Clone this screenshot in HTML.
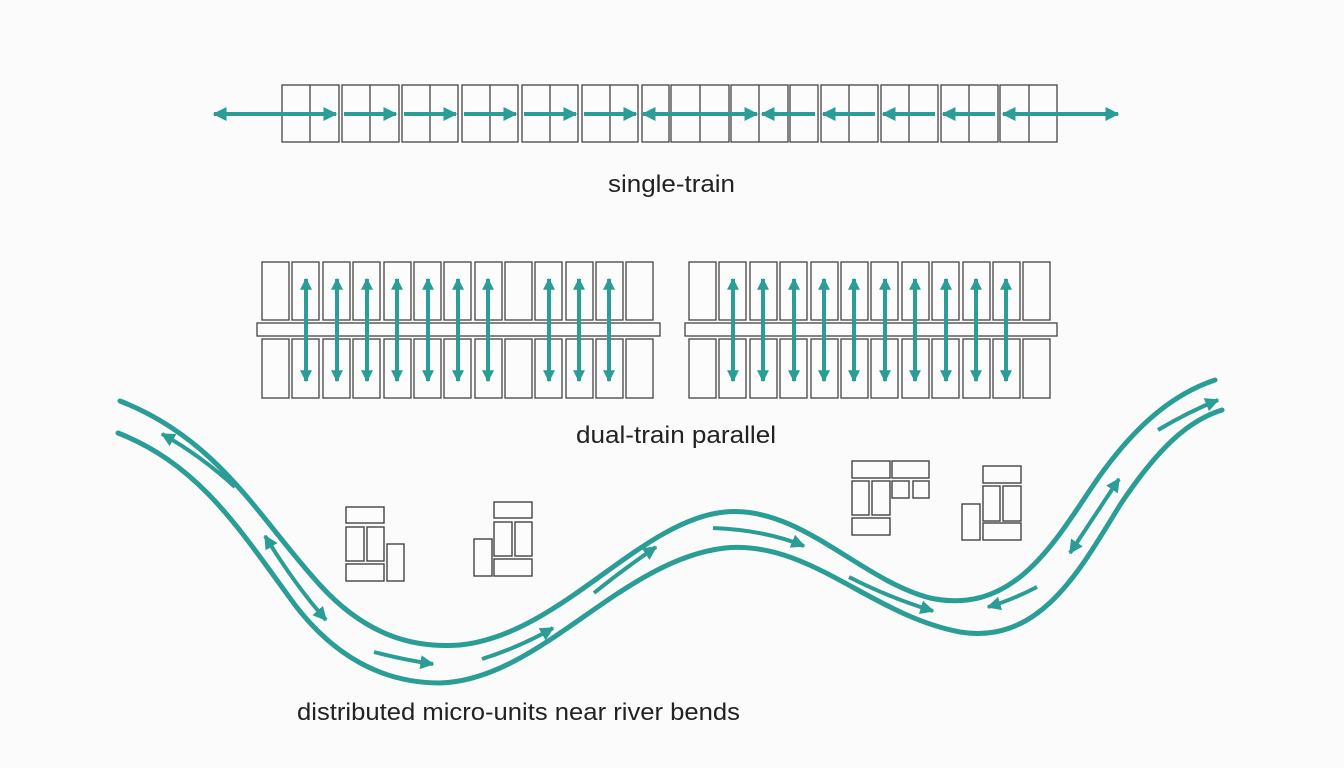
<!DOCTYPE html>
<html><head><meta charset="utf-8"><style>
html,body{margin:0;padding:0;background:#fbfbfb;}
svg{display:block;}
text{font-family:"Liberation Sans",sans-serif;fill:#222;}
</style></head><body>
<svg width="1344" height="768" viewBox="0 0 1344 768" xmlns="http://www.w3.org/2000/svg">
<defs>
<marker id="ah" viewBox="0 0 10 10" refX="9" refY="5" markerWidth="14" markerHeight="14" markerUnits="userSpaceOnUse" orient="auto-start-reverse">
<path d="M0,0 L10,5 L0,10 z" fill="#2a9d96"/></marker>
<marker id="ahs" viewBox="0 0 10 10" refX="9" refY="5" markerWidth="12" markerHeight="12" markerUnits="userSpaceOnUse" orient="auto-start-reverse">
<path d="M0,0 L10,5 L0,10 z" fill="#2a9d96"/></marker>
</defs>
<rect width="1344" height="768" fill="#fbfbfb"/>

<g fill="#fcfcfc" stroke="#444" stroke-width="1.3">
<rect x="282" y="85" width="57" height="57"/><line x1="310" y1="85" x2="310" y2="142"/>
<rect x="342" y="85" width="57" height="57"/><line x1="370" y1="85" x2="370" y2="142"/>
<rect x="402" y="85" width="56" height="57"/><line x1="430" y1="85" x2="430" y2="142"/>
<rect x="462" y="85" width="56" height="57"/><line x1="490" y1="85" x2="490" y2="142"/>
<rect x="522" y="85" width="56" height="57"/><line x1="550" y1="85" x2="550" y2="142"/>
<rect x="582" y="85" width="56" height="57"/><line x1="610" y1="85" x2="610" y2="142"/>
<rect x="642" y="85" width="27" height="57"/>
<rect x="671" y="85" width="58" height="57"/><line x1="700" y1="85" x2="700" y2="142"/>
<rect x="731" y="85" width="57" height="57"/><line x1="759" y1="85" x2="759" y2="142"/>
<rect x="790" y="85" width="28" height="57"/>
<rect x="821" y="85" width="57" height="57"/><line x1="849" y1="85" x2="849" y2="142"/>
<rect x="881" y="85" width="57" height="57"/><line x1="909" y1="85" x2="909" y2="142"/>
<rect x="941" y="85" width="57" height="57"/><line x1="969" y1="85" x2="969" y2="142"/>
<rect x="1000" y="85" width="57" height="57"/><line x1="1029" y1="85" x2="1029" y2="142"/>
</g>
<g stroke="#2a9d96" stroke-width="4" fill="none">
<line x1="214" y1="114" x2="336" y2="114" marker-start="url(#ah)" marker-end="url(#ah)"/>
<line x1="344" y1="114" x2="396" y2="114" marker-end="url(#ah)"/>
<line x1="404" y1="114" x2="456" y2="114" marker-end="url(#ah)"/>
<line x1="464" y1="114" x2="516" y2="114" marker-end="url(#ah)"/>
<line x1="524" y1="114" x2="576" y2="114" marker-end="url(#ah)"/>
<line x1="584" y1="114" x2="636" y2="114" marker-end="url(#ah)"/>
<line x1="643" y1="114" x2="757" y2="114" marker-start="url(#ah)" marker-end="url(#ah)"/>
<line x1="815" y1="114" x2="762" y2="114" marker-end="url(#ah)"/>
<line x1="875" y1="114" x2="823" y2="114" marker-end="url(#ah)"/>
<line x1="935" y1="114" x2="883" y2="114" marker-end="url(#ah)"/>
<line x1="995" y1="114" x2="943" y2="114" marker-end="url(#ah)"/>
<line x1="1003" y1="114" x2="1118" y2="114" marker-start="url(#ah)" marker-end="url(#ah)"/>
</g>
<text x="608" y="192" font-size="24" textLength="127" lengthAdjust="spacingAndGlyphs">single-train</text>

<g fill="#fcfcfc" stroke="#444" stroke-width="1.3">
<rect x="257" y="323" width="403" height="13"/>
<rect x="685" y="323" width="372" height="13"/>
</g>
<g fill="#fcfcfc" stroke="#444" stroke-width="1.3">
<rect x="262" y="262" width="27" height="58"/><rect x="262" y="339" width="27" height="59"/>
<rect x="292" y="262" width="27" height="58"/><rect x="292" y="339" width="27" height="59"/>
<rect x="323" y="262" width="27" height="58"/><rect x="323" y="339" width="27" height="59"/>
<rect x="353" y="262" width="27" height="58"/><rect x="353" y="339" width="27" height="59"/>
<rect x="384" y="262" width="27" height="58"/><rect x="384" y="339" width="27" height="59"/>
<rect x="414" y="262" width="27" height="58"/><rect x="414" y="339" width="27" height="59"/>
<rect x="444" y="262" width="27" height="58"/><rect x="444" y="339" width="27" height="59"/>
<rect x="475" y="262" width="27" height="58"/><rect x="475" y="339" width="27" height="59"/>
<rect x="505" y="262" width="27" height="58"/><rect x="505" y="339" width="27" height="59"/>
<rect x="535" y="262" width="27" height="58"/><rect x="535" y="339" width="27" height="59"/>
<rect x="566" y="262" width="27" height="58"/><rect x="566" y="339" width="27" height="59"/>
<rect x="596" y="262" width="27" height="58"/><rect x="596" y="339" width="27" height="59"/>
<rect x="626" y="262" width="27" height="58"/><rect x="626" y="339" width="27" height="59"/>
<rect x="689" y="262" width="27" height="58"/><rect x="689" y="339" width="27" height="59"/>
<rect x="719" y="262" width="27" height="58"/><rect x="719" y="339" width="27" height="59"/>
<rect x="750" y="262" width="27" height="58"/><rect x="750" y="339" width="27" height="59"/>
<rect x="780" y="262" width="27" height="58"/><rect x="780" y="339" width="27" height="59"/>
<rect x="811" y="262" width="27" height="58"/><rect x="811" y="339" width="27" height="59"/>
<rect x="841" y="262" width="27" height="58"/><rect x="841" y="339" width="27" height="59"/>
<rect x="871" y="262" width="27" height="58"/><rect x="871" y="339" width="27" height="59"/>
<rect x="902" y="262" width="27" height="58"/><rect x="902" y="339" width="27" height="59"/>
<rect x="932" y="262" width="27" height="58"/><rect x="932" y="339" width="27" height="59"/>
<rect x="963" y="262" width="27" height="58"/><rect x="963" y="339" width="27" height="59"/>
<rect x="993" y="262" width="27" height="58"/><rect x="993" y="339" width="27" height="59"/>
<rect x="1023" y="262" width="27" height="58"/><rect x="1023" y="339" width="27" height="59"/>
</g>
<g stroke="#2a9d96" stroke-width="4" fill="none" marker-start="url(#ahs)" marker-end="url(#ahs)">
<line x1="306" y1="279" x2="306" y2="381"/>
<line x1="337" y1="279" x2="337" y2="381"/>
<line x1="367" y1="279" x2="367" y2="381"/>
<line x1="397" y1="279" x2="397" y2="381"/>
<line x1="428" y1="279" x2="428" y2="381"/>
<line x1="458" y1="279" x2="458" y2="381"/>
<line x1="488" y1="279" x2="488" y2="381"/>
<line x1="549" y1="279" x2="549" y2="381"/>
<line x1="579" y1="279" x2="579" y2="381"/>
<line x1="609" y1="279" x2="609" y2="381"/>
<line x1="733" y1="279" x2="733" y2="381"/>
<line x1="763" y1="279" x2="763" y2="381"/>
<line x1="794" y1="279" x2="794" y2="381"/>
<line x1="824" y1="279" x2="824" y2="381"/>
<line x1="854" y1="279" x2="854" y2="381"/>
<line x1="885" y1="279" x2="885" y2="381"/>
<line x1="915" y1="279" x2="915" y2="381"/>
<line x1="946" y1="279" x2="946" y2="381"/>
<line x1="976" y1="279" x2="976" y2="381"/>
<line x1="1006" y1="279" x2="1006" y2="381"/>
</g>
<text x="576" y="443" font-size="24" textLength="200" lengthAdjust="spacingAndGlyphs">dual-train parallel</text>

<g stroke="#2a9d96" stroke-width="5" fill="none" stroke-linecap="round">
<path d="M120,401 C220,440 260,520 320,585 C370,640 420,648 460,645 C560,635 640,520 725,512 C800,505 860,580 930,598 C1010,615 1050,550 1090,490 C1130,430 1170,395 1215,380"/>
<path d="M118,433 C200,465 240,530 295,605 C345,670 400,683 440,683 C540,680 620,560 725,548 C810,540 870,615 960,632 C1040,645 1080,570 1120,505 C1160,445 1190,420 1222,410"/>
</g>
<g stroke="#2a9d96" stroke-width="4" fill="none">
<path d="M235,487 Q200,455 162,434" marker-end="url(#ah)"/>
<path d="M265,536 Q295,585 326,620" marker-start="url(#ah)" marker-end="url(#ah)"/>
<path d="M374,652 Q405,660 433,664" marker-end="url(#ah)"/>
<path d="M482,659 Q520,647 553,628" marker-end="url(#ah)"/>
<path d="M594,593 Q625,568 656,547" marker-end="url(#ah)"/>
<path d="M713,528 Q765,530 804,546" marker-end="url(#ah)"/>
<path d="M849,577 Q890,598 933,611" marker-end="url(#ah)"/>
<path d="M1037,587 Q1012,600 988,607" marker-end="url(#ah)"/>
<path d="M1070,553 Q1095,515 1119,479" marker-start="url(#ah)" marker-end="url(#ah)"/>
<path d="M1158,430 Q1188,412 1218,400" marker-end="url(#ah)"/>
</g>

<g fill="#fcfcfc" stroke="#444" stroke-width="1.4">
<rect x="346" y="507" width="38" height="16"/>
<rect x="346" y="527" width="18" height="34"/>
<rect x="367" y="527" width="17" height="34"/>
<rect x="346" y="564" width="38" height="17"/>
<rect x="387" y="544" width="17" height="37"/>
<rect x="494" y="502" width="38" height="16"/>
<rect x="494" y="522" width="18" height="34"/>
<rect x="515" y="522" width="17" height="34"/>
<rect x="494" y="559" width="38" height="17"/>
<rect x="474" y="539" width="18" height="37"/>
<rect x="852" y="461" width="38" height="17"/>
<rect x="892" y="461" width="37" height="17"/>
<rect x="852" y="481" width="17" height="34"/>
<rect x="872" y="481" width="18" height="34"/>
<rect x="892" y="481" width="17" height="17"/>
<rect x="913" y="481" width="16" height="17"/>
<rect x="852" y="518" width="38" height="17"/>
<rect x="983" y="466" width="38" height="17"/>
<rect x="983" y="486" width="17" height="35"/>
<rect x="1003" y="486" width="18" height="35"/>
<rect x="983" y="523" width="38" height="17"/>
<rect x="962" y="504" width="18" height="36"/>
</g>
<text x="297" y="720" font-size="24" textLength="443" lengthAdjust="spacingAndGlyphs">distributed micro-units near river bends</text>
</svg>
</body></html>
